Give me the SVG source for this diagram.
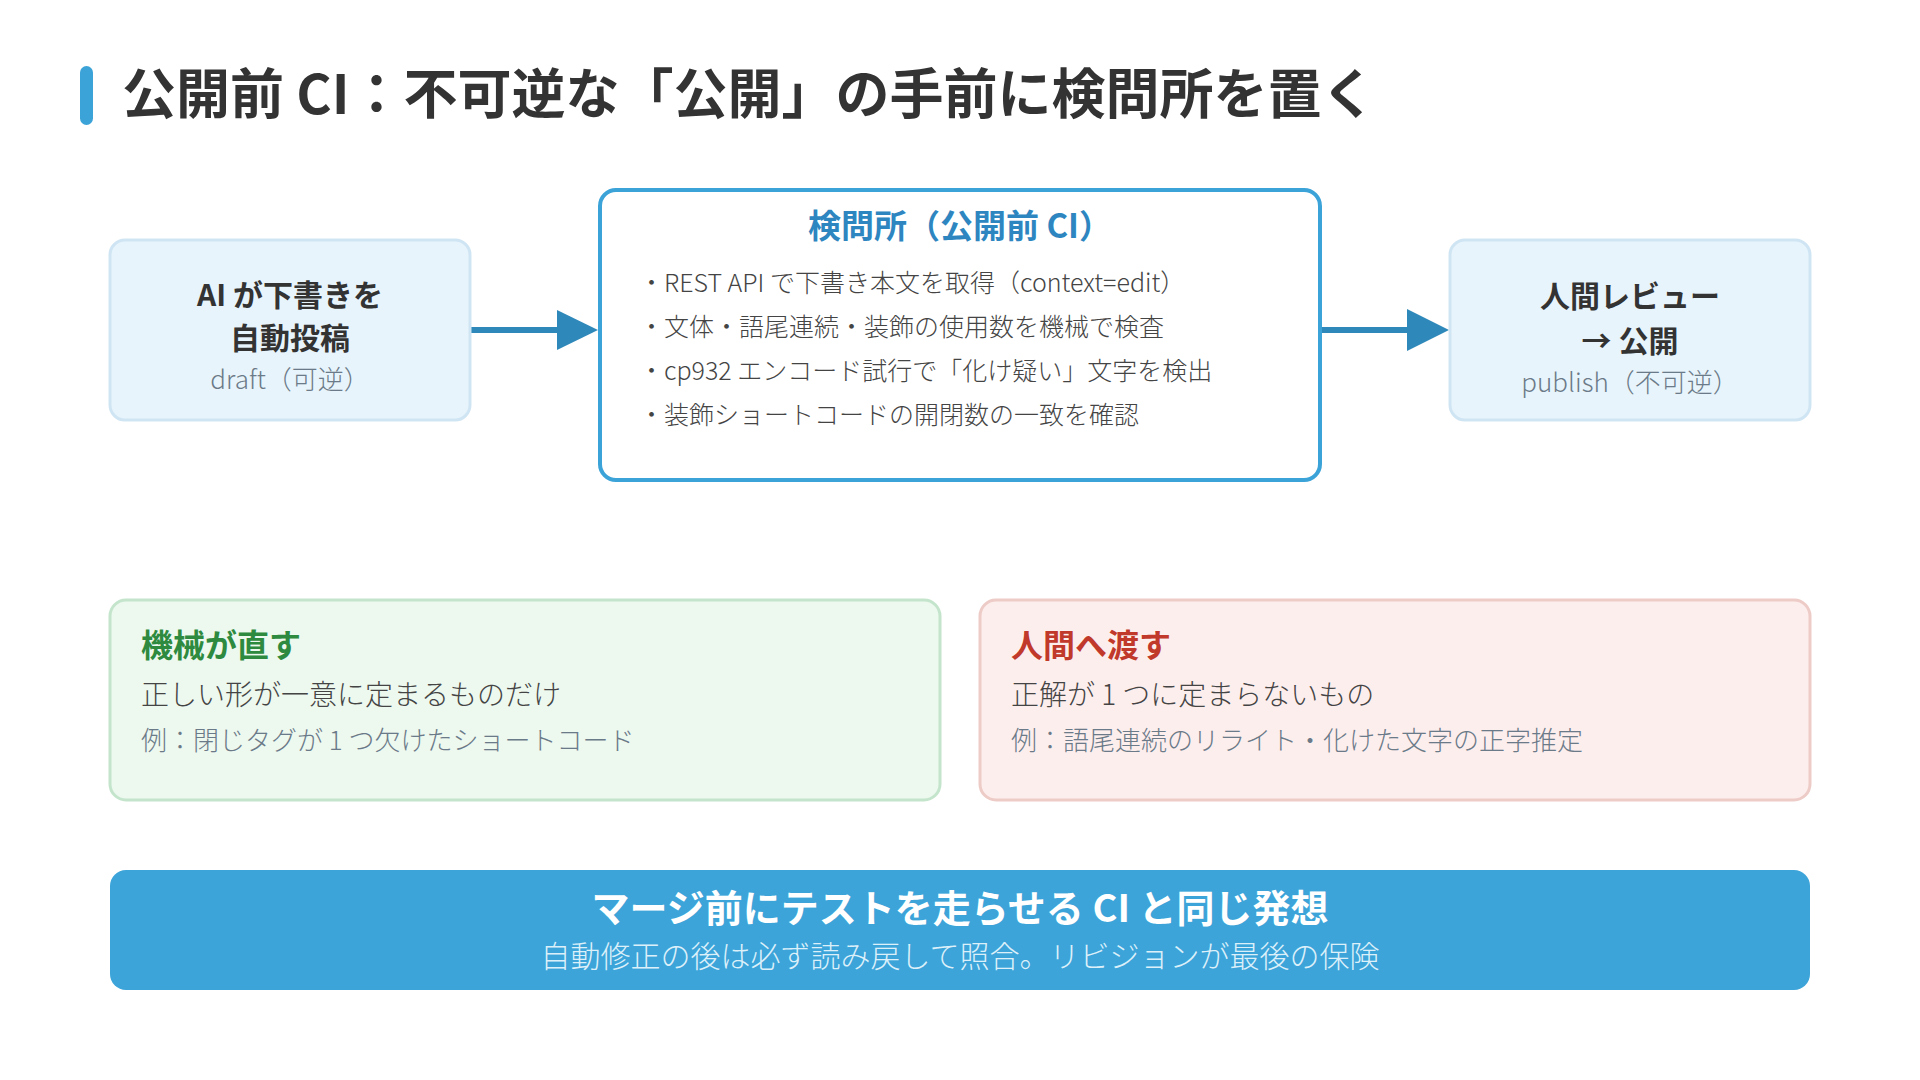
<svg xmlns="http://www.w3.org/2000/svg" width="1920" height="1080" viewBox="0 0 1920 1080">
<defs>
<style>
text{font-family:"Noto Sans CJK JP","Noto Sans",sans-serif;}
.title{font-size:54px;font-weight:700;fill:#333;}
.nodeBox{fill:#e8f4fb;stroke:#cfe5f3;stroke-width:3;}
.nodeMain{font-size:30px;font-weight:700;fill:#333;text-anchor:middle;}
.nodeSub{font-size:26px;font-weight:300;fill:#6b7a88;text-anchor:middle;}
.ciBox{fill:#fff;stroke:#3ba3d8;stroke-width:4;}
.ciTitle{font-size:33px;font-weight:700;fill:#2e86c1;text-anchor:middle;}
.bullet{font-size:25px;font-weight:300;fill:#444;}
.conn{stroke:#2e88ba;stroke-width:6;fill:none;}
.head{fill:#2e88ba;}
.cardTitle{font-size:32px;font-weight:700;}
.cardText{font-size:28px;font-weight:300;fill:#444;}
.cardEx{font-size:26px;font-weight:300;fill:#6b7a88;}
.banner{fill:#3ca4d9;}
.bannerTitle{font-size:38px;font-weight:700;fill:#fff;text-anchor:middle;}
.bannerSub{font-size:30px;font-weight:300;fill:#dcf0fa;text-anchor:middle;}
</style>
</defs>
<rect width="1920" height="1080" fill="#fff"/>
<g id="title">
<rect x="80" y="66" width="13" height="59" rx="6.5" fill="#3ba3d8"/>
<text class="title" x="122" y="114">公開前 CI：不可逆な「公開」の手前に検問所を置く</text>
</g>
<g id="connectors">
<line class="conn" x1="470" y1="330" x2="560" y2="330"/>
<polygon class="head" points="557,310 598,330 557,350"/>
<line class="conn" x1="1320" y1="330" x2="1410" y2="330"/>
<polygon class="head" points="1407,309 1449,330 1407,351"/>
</g>
<g id="node-draft">
<rect class="nodeBox" x="110" y="240" width="360" height="180" rx="15"/>
<text class="nodeMain" x="290" y="306">AI が下書きを</text>
<text class="nodeMain" x="290" y="349">自動投稿</text>
<text class="nodeSub" x="290" y="389">draft（可逆）</text>
</g>
<g id="node-ci">
<rect class="ciBox" x="600" y="190" width="720" height="290" rx="16"/>
<text class="ciTitle" x="960" y="238">検問所（公開前 CI）</text>
<text class="bullet" x="639" y="292">・REST API で下書き本文を取得（context=edit）</text>
<text class="bullet" x="639" y="336">・文体・語尾連続・装飾の使用数を機械で検査</text>
<text class="bullet" x="639" y="380">・cp932 エンコード試行で「化け疑い」文字を検出</text>
<text class="bullet" x="639" y="424">・装飾ショートコードの開閉数の一致を確認</text>
</g>
<g id="node-publish">
<rect class="nodeBox" x="1450" y="240" width="360" height="180" rx="15"/>
<text class="nodeMain" x="1630" y="307">人間レビュー</text>
<text class="nodeMain" x="1630" y="352">→ 公開</text>
<text class="nodeSub" x="1630" y="392">publish（不可逆）</text>
</g>
<g id="card-machine">
<rect x="110" y="600" width="830" height="200" rx="16" fill="#edf8ef" stroke="#c4e5cc" stroke-width="3"/>
<text class="cardTitle" x="141" y="657" fill="#2d8a3e">機械が直す</text>
<text class="cardText" x="141" y="705">正しい形が一意に定まるものだけ</text>
<text class="cardEx" x="141" y="750">例：閉じタグが 1 つ欠けたショートコード</text>
</g>
<g id="card-human">
<rect x="980" y="600" width="830" height="200" rx="16" fill="#fdeeee" stroke="#edcbc6" stroke-width="3"/>
<text class="cardTitle" x="1011" y="657" fill="#c0392b">人間へ渡す</text>
<text class="cardText" x="1011" y="705">正解が 1 つに定まらないもの</text>
<text class="cardEx" x="1011" y="750">例：語尾連続のリライト・化けた文字の正字推定</text>
</g>
<g id="banner">
<rect class="banner" x="110" y="870" width="1700" height="120" rx="16"/>
<text class="bannerTitle" x="960" y="922">マージ前にテストを走らせる CI と同じ発想</text>
<text class="bannerSub" x="960" y="967">自動修正の後は必ず読み戻して照合。リビジョンが最後の保険</text>
</g>
</svg>
